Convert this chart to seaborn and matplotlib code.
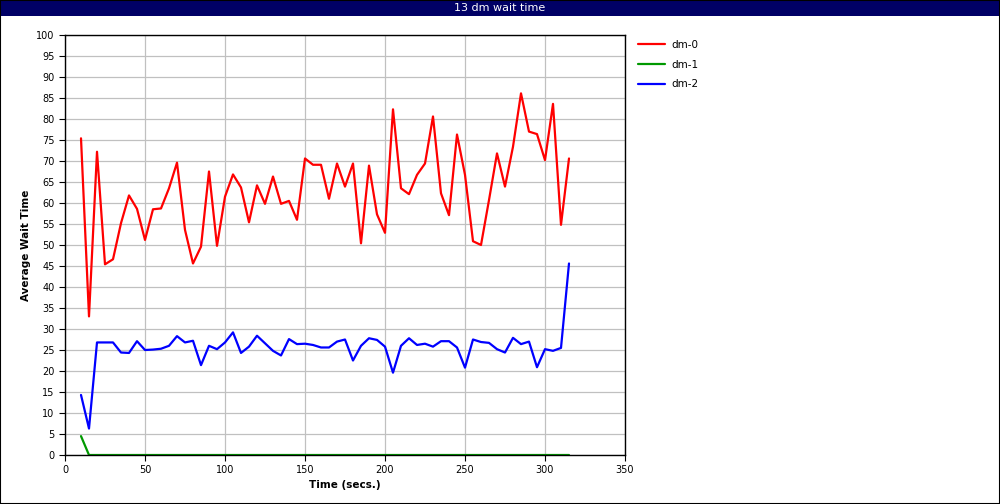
import numpy as np
import pandas as pd
import matplotlib
matplotlib.use("Agg")
import matplotlib.pyplot as plt
from matplotlib.patches import Rectangle
import seaborn as sns

# data
time_secs = list(range(10, 320, 5))

dm0 = [75.4, 33.0, 72.2, 45.4, 46.6, 55.2, 61.8, 58.6, 51.2, 58.5,
       58.7, 63.5, 69.6, 53.6, 45.6, 49.6, 67.5, 49.8, 61.5, 66.8,
       63.7, 55.4, 64.2, 59.8, 66.3, 59.8, 60.5, 56.0, 70.6, 69.1,
       69.1, 61.0, 69.4, 63.9, 69.4, 50.4, 68.9, 57.3, 52.9, 82.3,
       63.5, 62.1, 66.7, 69.4, 80.6, 62.3, 57.1, 76.3, 66.7, 50.9,
       50.0, 60.7, 71.8, 63.9, 73.4, 86.1, 77.0, 76.4, 70.2, 83.6,
       54.8, 70.6]

dm1 = [4.5] + [0.0] * 61

dm2 = [14.3, 6.3, 26.8, 26.8, 26.8, 24.4, 24.3, 27.1, 25.0, 25.1,
       25.3, 26.0, 28.3, 26.8, 27.2, 21.4, 26.0, 25.2, 26.8, 29.2,
       24.3, 25.8, 28.4, 26.6, 24.8, 23.7, 27.6, 26.4, 26.5, 26.2,
       25.6, 25.6, 27.0, 27.5, 22.5, 26.0, 27.8, 27.4, 25.8, 19.6,
       26.0, 27.8, 26.2, 26.5, 25.8, 27.1, 27.1, 25.6, 20.8, 27.5,
       26.9, 26.7, 25.2, 24.4, 27.9, 26.4, 27.0, 20.9, 25.2, 24.8,
       25.5, 45.6]

series_names = ["dm-0", "dm-1", "dm-2"]
colors = ["#ff0000", "#009900", "#0000ff"]

df = pd.DataFrame({
    "time": time_secs * 3,
    "wait": dm0 + dm1 + dm2,
    "series": np.repeat(series_names, len(time_secs)),
})

sns.set_style("white")
plt.rcParams["font.family"] = ["DejaVu Sans"]
plt.rcParams["text.color"] = "black"
plt.rcParams["axes.labelcolor"] = "black"

fig = plt.figure(figsize=(10, 5.04), dpi=100)
ax = fig.add_axes([0.065, 0.0972, 0.56, 0.8334])

sns.lineplot(data=df, x="time", y="wait", hue="series", palette=colors,
             linewidth=1.6, ax=ax, legend=True)

ax.set_xlim(0, 350)
ax.set_ylim(0, 100)
ax.set_xticks(range(0, 351, 50))
ax.set_yticks(range(0, 101, 5))
ax.grid(True, color="#c0c0c0", linewidth=0.9)
ax.set_axisbelow(True)
for s in ax.spines.values():
    s.set_color("black")
    s.set_linewidth(1.0)
ax.tick_params(axis="both", direction="out", length=4, width=0.8,
               labelsize=7, colors="black", left=True, bottom=True)
ax.set_xlabel("Time (secs.)", fontsize=7.5, fontweight="bold", labelpad=3)
ax.set_ylabel("Average Wait Time", fontsize=7.5, fontweight="bold", labelpad=4)

handles, labels = ax.get_legend_handles_labels()
ax.legend(handles, labels, loc="upper left", bbox_to_anchor=(0.629, 0.94),
          bbox_transform=fig.transFigure, frameon=False, fontsize=7.5,
          handlelength=2.6, handletextpad=0.6, labelspacing=0.95)

# title bar and outer border
fig.patches.append(Rectangle((0, 1 - 16 / 504), 1, 16 / 504, transform=fig.transFigure,
                             facecolor="#000066", edgecolor="none", zorder=0))
fig.text(0.5, 1 - 8 / 504, "13 dm wait time", color="white", fontsize=8,
         ha="center", va="center")
fig.patches.append(Rectangle((0, 0), 1, 1, transform=fig.transFigure,
                             facecolor="none", edgecolor="black", linewidth=1.5, zorder=5))

fig.savefig("out.png", dpi=100)
